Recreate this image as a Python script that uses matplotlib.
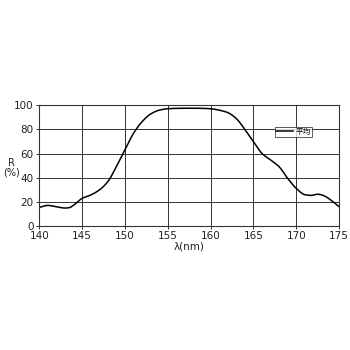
import matplotlib
matplotlib.use("Agg")
import matplotlib.pyplot as plt
import numpy as np

plt.rcParams['font.family'] = ['DejaVu Sans', 'Noto Sans CJK JP']

wavelength = [140, 141, 142, 143, 143.5, 144, 145, 146, 147, 148, 149, 150, 151, 152, 153, 154, 155,
              156, 157, 158, 159, 160, 161, 162, 163, 164, 165, 166, 167, 168, 169, 170, 171, 171.7,
              172.5, 173.2, 174, 175]
reflectance = [15.2, 16.9, 15.8, 14.7, 15.0, 17.0, 22.7, 25.5, 29.6, 36.6, 49.0, 63.0, 76.7, 86.4, 92.8,
               96.0, 97.2, 97.5, 97.6, 97.6, 97.5, 97.2, 96.0, 94.0, 89.0, 80.0, 69.8, 60.0, 54.6, 49.0,
               39.3, 31.0, 25.8, 25.2, 26.2, 25.0, 21.5, 15.8]
xticks = [140, 145, 150, 155, 160, 165, 170, 175]
yticks = [0, 20, 40, 60, 80, 100]
series_label = '平均'

fig = plt.figure(figsize=(3.5, 3.5), dpi=100)
ax = fig.add_axes([0.112, 0.355, 0.857, 0.344])

xs = np.array(wavelength, dtype=float)
ys = np.array(reflectance, dtype=float)

def pchip(x, y, xn):
    h = np.diff(x); d = np.diff(y) / h
    m = np.zeros_like(y)
    for k in range(1, len(x) - 1):
        if d[k-1] * d[k] <= 0:
            m[k] = 0
        else:
            w1 = 2*h[k] + h[k-1]; w2 = h[k] + 2*h[k-1]
            m[k] = (w1 + w2) / (w1 / d[k-1] + w2 / d[k])
    m[0] = d[0]; m[-1] = d[-1]
    idx = np.clip(np.searchsorted(x, xn) - 1, 0, len(x) - 2)
    t = (xn - x[idx]) / h[idx]
    h00 = 2*t**3 - 3*t**2 + 1; h10 = t**3 - 2*t**2 + t
    h01 = -2*t**3 + 3*t**2; h11 = t**3 - t**2
    return h00*y[idx] + h10*h[idx]*m[idx] + h01*y[idx+1] + h11*h[idx]*m[idx+1]

xn = np.linspace(140, 175, 600)
ax.plot(xn, pchip(xs, ys, xn), color='black', lw=1.1, label=series_label)

ax.set_xlim(140, 175)
ax.set_ylim(0, 100)
ax.set_xticks(xticks)
ax.set_yticks(yticks)
ax.grid(True, color='#333333', lw=0.7)
for s in ax.spines.values():
    s.set_color('#333333'); s.set_linewidth(0.8)
ax.tick_params(length=2, width=0.7, labelsize=7.5, colors='#333333', labelcolor='#222222', pad=2)
ax.set_xlabel('λ(nm)', fontsize=7.5, labelpad=0, color='#222222')
ax.text(-0.092, 0.48, 'R\n(%)', transform=ax.transAxes, fontsize=7, ha='center', va='center',
        linespacing=0.9, color='#222222')

leg = ax.legend(loc='upper left', bbox_to_anchor=(0.785, 0.82), frameon=True,
                fancybox=False, edgecolor='#333333', handlelength=2.2, handletextpad=0.4,
                borderpad=0.15, borderaxespad=0, prop={'family': ['Noto Sans CJK JP'], 'size': 5.5})
leg.get_frame().set_linewidth(0.7)

fig.savefig('out.png', dpi=100)
